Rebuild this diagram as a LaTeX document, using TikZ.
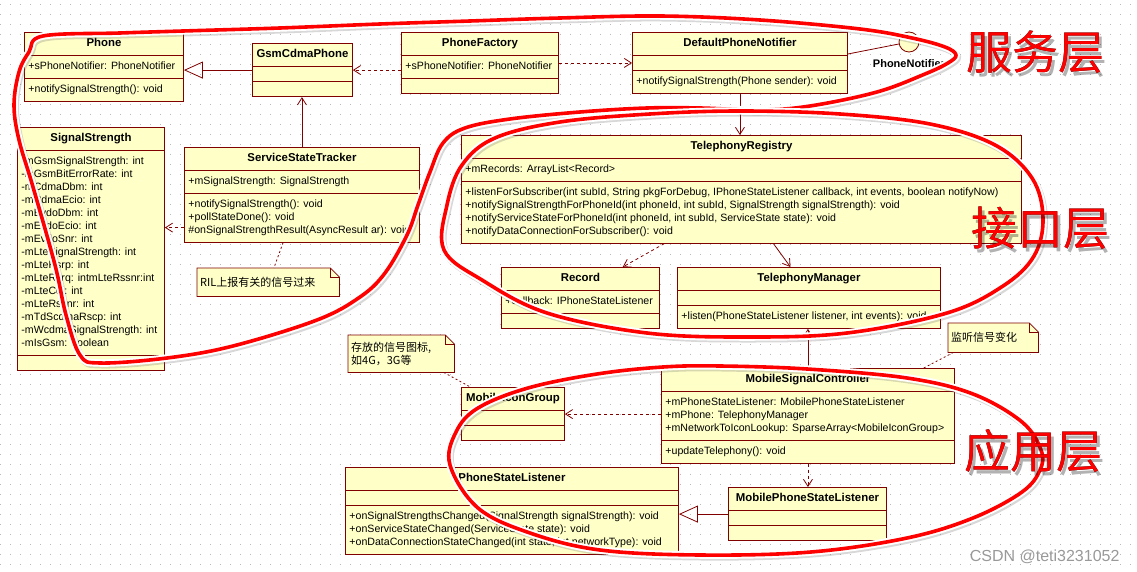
\documentclass[tikz,border=0pt]{standalone}
\usepackage{fontspec}
\usepackage{pdfrender}
\setmainfont{Liberation Sans}
\newfontfamily\cjk{Noto Sans CJK SC}
\usetikzlibrary{shapes.multipart,arrows.meta,calc,positioning}
\definecolor{umlred}{RGB}{128,0,0}
\definecolor{umlfill}{RGB}{255,255,200}
\definecolor{gridgray}{RGB}{185,185,185}
\newcommand\umlfont{\fontsize{10.6}{13}\selectfont}
\newcommand\tagfont{\cjk\fontsize{46}{46}\selectfont}
\newcommand\cname[1]{\fontsize{11.4}{13}\selectfont\bfseries\strut#1}
\def\fold{9}
\newcommand\notefold[1]{%
  \fill[white] ($(#1.north east)+(-\fold,0)$) -- (#1.north east) -- ($(#1.north east)+(0,\fold)$) -- cycle;
  \draw[umlred,line width=0.8pt] (#1.north west) -- ($(#1.north east)+(-\fold,0)$) -- ($(#1.north east)+(0,\fold)$) -- (#1.south east) -- (#1.south west) -- cycle;
  \draw[umlred,line width=0.8pt] ($(#1.north east)+(-\fold,0)$) |- ($(#1.north east)+(0,\fold)$);}
\newcommand\bigtag[2]{%
  \node[opacity=.3] (#1-shd) at ($(#1)+(3,4)$)
    {\tagfont\textpdfrender{TextRenderingMode=FillStroke,LineWidth=5,FillColor=black,StrokeColor=black}{#2}};
  \node (#1-halo) at (#1)
    {\tagfont\textpdfrender{TextRenderingMode=FillStroke,LineWidth=6,FillColor=white,StrokeColor=white}{#2}};
  \node[text=red] (#1-txt) at (#1) {\tagfont #2};}

\begin{document}
\begin{tikzpicture}[x=1pt,y=-1pt,
  umlclass/.style={rectangle split, rectangle split parts=3, draw=umlred, line width=0.9pt,
    fill=umlfill, anchor=north west, inner xsep=4pt, inner ysep=4.5pt, align=left,
    rectangle split part align={center,left,left},
    rectangle split empty part height=0.5pt, rectangle split empty part depth=0pt,
    font=\umlfont},
  umlnote/.style={anchor=north west, fill=umlfill, inner xsep=3pt, inner ysep=0pt,
    align=left, font=\cjk\fontsize{11}{13}\selectfont},
  dep/.style={draw=umlred, line width=0.8pt, dash pattern=on 3pt off 3pt,
    -{Straight Barb[length=7pt,width=9pt]}},
  assoc/.style={draw=umlred, line width=0.8pt, -{Straight Barb[length=7pt,width=9pt]}},
  inherit/.style={draw=umlred, line width=0.8pt, -{Triangle[open,length=19pt,width=17pt]}},
  noteline/.style={draw=umlred, line width=0.8pt, dash pattern=on 2pt off 2.5pt},
  layerloop/.style={draw=red, line width=3.6pt, line cap=round, line join=round,
    preaction={draw=black!60, draw opacity=.25, line width=7pt, transform canvas={shift={(1.5pt,-2pt)}}},
    preaction={draw=white, line width=7.5pt}}]
\useasboundingbox (0,0) rectangle (1137,572);
\fill[white] (0,0) rectangle (1137,572);
% dotted grid
\foreach \gy in {4,14,...,574}
  \draw[gridgray,line width=0.9pt,dash pattern=on 0.9pt off 9.1pt] (0,\gy) -- (1137,\gy);

% service classes
\node[umlclass, minimum width=159] (phone) at (24,32)
  {\cname{Phone}\nodepart{two}\strut+sPhoneNotifier: PhoneNotifier\nodepart{three}\strut+notifySignalStrength(): void};
\node[umlclass, minimum width=100] (gsm) at (252,43)
  {\cname{GsmCdmaPhone}\nodepart{two}\nodepart{three}};
\node[umlclass, minimum width=157] (factory) at (401,32)
  {\cname{PhoneFactory}\nodepart{two}\strut+sPhoneNotifier: PhoneNotifier\nodepart{three}};
\node[umlclass, minimum width=215] (notifier) at (632,32)
  {\cname{DefaultPhoneNotifier}\nodepart{two}\nodepart{three}\strut+notifySignalStrength(Phone sender): void};
\node[umlclass, minimum width=147] (signal) at (17,127)
  {\cname{SignalStrength}\nodepart{two}\strut-mGsmSignalStrength: int\\-mGsmBitErrorRate: int\\-mCdmaDbm: int\\
   -mCdmaEcio: int\\-mEvdoDbm: int\\-mEvdoEcio: int\\-mEvdoSnr: int\\-mLteSignalStrength: int\\
   -mLteRsrp: int\\-mLteRsrq: intmLteRssnr:int\\-mLteCqi: int\\-mLteRssnr: int\\
   -mTdScdmaRscp: int\\-mWcdmaSignalStrength: int\\-mIsGsm: boolean\strut\nodepart{three}};
\node[umlclass, minimum width=235] (sst) at (184,147)
  {\cname{ServiceStateTracker}\nodepart{two}\strut+mSignalStrength: SignalStrength
   \nodepart{three}\strut+notifySignalStrength(): void\\+pollStateDone(): void\\
   \#onSignalStrengthResult(AsyncResult ar): void\strut};

% interface classes
\node[umlclass, minimum width=560] (registry) at (461,135)
  {\cname{TelephonyRegistry}\nodepart{two}\strut+mRecords: ArrayList<Record>
   \nodepart{three}\strut+listenForSubscriber(int subId, String pkgForDebug, IPhoneStateListener callback, int events, boolean notifyNow)\\
   +notifySignalStrengthForPhoneId(int phoneId, int subId, SignalStrength signalStrength): void\\
   +notifyServiceStateForPhoneId(int phoneId, int subId, ServiceState state): void\\
   +notifyDataConnectionForSubscriber(): void\strut};
\node[umlclass, minimum width=158] (record) at (501,267)
  {\cname{Record}\nodepart{two}\strut+callback: IPhoneStateListener\nodepart{three}};
\node[umlclass, minimum width=263] (telmgr) at (677,267)
  {\cname{TelephonyManager}\nodepart{two}\nodepart{three}\strut+listen(PhoneStateListener listener, int events): void};

% app classes
\node[umlclass, minimum width=293] (msc) at (661,368)
  {\cname{MobileSignalController}\nodepart{two}\strut+mPhoneStateListener: MobilePhoneStateListener\\
   +mPhone: TelephonyManager\\+mNetworkToIconLookup: SparseArray<MobileIconGroup>\strut
   \nodepart{three}\strut+updateTelephony(): void};
\node[umlclass, minimum width=103] (icon) at (461,387)
  {\cname{MobileIconGroup}\nodepart{two}\nodepart{three}};
\node[umlclass, minimum width=333] (psl) at (345,467)
  {\cname{PhoneStateListener}\nodepart{two}\nodepart{three}\strut+onSignalStrengthsChanged(SignalStrength signalStrength): void\\
   +onServiceStateChanged(ServiceState state): void\\
   +onDataConnectionStateChanged(int state, int networkType): void\strut};
\node[umlclass, minimum width=158] (mpsl) at (728,487)
  {\cname{MobilePhoneStateListener}\nodepart{two}\nodepart{three}};

% notes
\node[umlnote, text width=136, minimum height=28] (ril) at (197,268) {RIL上报有关的信号过来};
\notefold{ril}
\node[umlnote, text width=100, minimum height=37] (icnote) at (348,335) {存放的信号图标,\\如4G，3G等};
\notefold{icnote}
\node[umlnote, text width=84, minimum height=29] (lsnnote) at (948,323) {监听信号变化};
\notefold{lsnnote}

% connectors
\draw[inherit] (gsm.west) -- (gsm.west -| phone.east);
\draw[dep] (factory.west |- gsm.east) -- (gsm.east);
\draw[dep] (factory.east) -- (factory.east -| notifier.west);
\draw[assoc] (notifier.south) -- (notifier.south |- registry.north);
\coordinate (pnfoot) at ($(notifier.north east)+(0,22)$);
\node[circle, draw=umlred, fill=umlfill, line width=0.8pt, minimum size=20, inner sep=0] (pn) at (909,42) {};
\node[font=\fontsize{11}{13}\selectfont\bfseries, below=4pt of pn] (pnname) {PhoneNotifier};
\draw[umlred, line width=0.8pt] (pnfoot) -- (pn);
\draw[assoc] (sst.north) -- (sst.north |- gsm.south);
\coordinate (sstdep) at ($(sst.south west)+(0,-15)$);
\draw[dep] (sstdep) -- (sstdep -| signal.east);
\draw[noteline] ($(sst.south west)!.42!(sst.south east)$) -- ($(ril.north west)!.54!(ril.north east)$);
\draw[dep] ($(registry.south west)!.3625!(registry.south east)$) -- ($(record.north west)!.766!(record.north east)$);
\draw[assoc] ($(registry.south west)!.557!(registry.south east)$) -- ($(telmgr.north west)!.43!(telmgr.north east)$);
\draw[assoc] (msc.north) -- (msc.north |- telmgr.south);
\draw[noteline] ($(lsnnote.south west)!.06!(lsnnote.south east)$) -- ($(msc.north west)!.894!(msc.north east)$);
\draw[dep] (msc.west |- icon.east) -- (icon.east);
\draw[noteline] ($(icnote.south west)!.9!(icnote.south east)$) -- ($(icon.north west)!.09!(icon.north east)$);
\draw[dep] (msc.south) -- (msc.south |- mpsl.north);
\draw[inherit] (mpsl.west) -- (mpsl.west -| psl.east);

% hand drawn layer loops
\draw[layerloop] plot[smooth cycle, tension=0.6] coordinates {(43,36) (120,33) (183,31) (280,28) (380,24)
  (470,21) (560,18) (660,16) (760,20) (860,29) (912,38) (945,47) (956,55) (948,63) (925,74) (877,92)
  (810,106) (760,110) (700,108) (647,108) (580,112) (510,119) (465,128) (443,143) (430,172) (418,205)
  (407,235) (385,273) (360,297) (317,320) (233,346) (167,358) (100,363) (80,355) (66,315) (55,265)
  (33,187) (19,140) (14,105) (19,72) (29,52)};
\draw[layerloop] plot[smooth cycle, tension=0.6] coordinates {(444,250) (447,205) (462,165) (495,138)
  (560,122) (650,114) (740,111) (840,114) (930,124) (995,145) (1032,178) (1043,218) (1034,256)
  (1003,286) (947,313) (847,333) (747,337) (647,333) (547,313) (482,280)};
\draw[layerloop] plot[smooth cycle, tension=0.6] coordinates {(450,465) (456,432) (478,408) (528,388)
  (597,374) (663,367) (720,366) (807,369) (907,378) (973,394) (1022,422) (1041,450) (1040,470)
  (1022,492) (973,518) (907,538) (811,552) (700,555) (600,550) (530,533) (478,508)};

% layer names
\coordinate (svctag) at (1035,52);
\coordinate (ifctag) at (1040,228);
\coordinate (apptag) at (1033,451);
\bigtag{svctag}{服务层}
\bigtag{ifctag}{接口层}
\bigtag{apptag}{应用层}
\node[font=\fontsize{16}{16}\selectfont, text=black!40, anchor=east] (mark) at (1123,557) {CSDN @teti3231052};
\end{tikzpicture}
\end{document}
